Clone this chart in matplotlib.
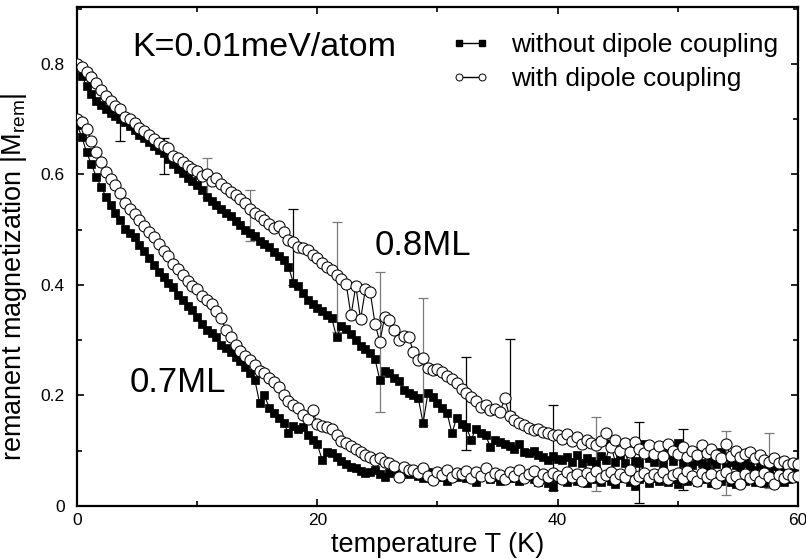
import numpy as np
import matplotlib
matplotlib.use("Agg")
import matplotlib.pyplot as plt
from matplotlib.lines import Line2D
from matplotlib.ticker import MultipleLocator, FixedLocator

plt.rcParams['font.family'] = ['Liberation Sans', 'DejaVu Sans']
plt.rcParams['mathtext.fontset'] = 'custom'
plt.rcParams['mathtext.rm'] = 'Liberation Sans'

# temperature grid (K), 0.4 K sampling
T = np.round(np.arange(151) * 0.4, 1)

# 0.8 ML, with dipole coupling (open circles)
m08_dip = [
    0.800, 0.795, 0.785, 0.776, 0.765, 0.752, 0.742, 0.733, 0.724, 0.718,
    0.704, 0.700, 0.693, 0.684, 0.678, 0.672, 0.665, 0.657, 0.651, 0.648,
    0.634, 0.630, 0.622, 0.616, 0.610, 0.606, 0.598, 0.600, 0.588, 0.594,
    0.583, 0.575, 0.568, 0.562, 0.555, 0.548, 0.537, 0.530, 0.524, 0.518,
    0.510, 0.503, 0.506, 0.495, 0.482, 0.478, 0.469, 0.466, 0.463, 0.455,
    0.448, 0.440, 0.432, 0.427, 0.418, 0.410, 0.402, 0.345, 0.398, 0.338,
    0.392, 0.387, 0.330, 0.297, 0.342, 0.337, 0.318, 0.300, 0.308, 0.306,
    0.279, 0.264, 0.268, 0.250, 0.246, 0.248, 0.242, 0.236, 0.230, 0.222,
    0.212, 0.204, 0.198, 0.190, 0.179, 0.182, 0.174, 0.176, 0.170, 0.195,
    0.162, 0.156, 0.150, 0.146, 0.142, 0.137, 0.139, 0.134, 0.132, 0.128,
    0.128, 0.122, 0.130, 0.118, 0.124, 0.112, 0.120, 0.114, 0.110, 0.118,
    0.132, 0.106, 0.120, 0.100, 0.114, 0.098, 0.116, 0.104, 0.096, 0.110,
    0.094, 0.108, 0.090, 0.112, 0.100, 0.094, 0.106, 0.088, 0.100, 0.092,
    0.110, 0.096, 0.104, 0.092, 0.086, 0.112, 0.090, 0.100, 0.088, 0.094,
    0.098, 0.086, 0.092, 0.084, 0.080, 0.086, 0.078, 0.082, 0.074, 0.078,
    0.076,
]

# 0.8 ML, without dipole coupling (filled squares)
m08_nodip = [
    0.800, 0.778, 0.760, 0.745, 0.733, 0.725, 0.718, 0.712, 0.705, 0.700,
    0.695, 0.688, 0.680, 0.672, 0.666, 0.658, 0.652, 0.645, 0.638, 0.628,
    0.618, 0.610, 0.602, 0.594, 0.588, 0.580, 0.572, 0.560, 0.552, 0.545,
    0.538, 0.530, 0.524, 0.515, 0.508, 0.500, 0.494, 0.488, 0.480, 0.474,
    0.468, 0.460, 0.452, 0.445, 0.433, 0.404, 0.398, 0.385, 0.373, 0.365,
    0.358, 0.352, 0.345, 0.340, 0.306, 0.325, 0.320, 0.312, 0.300, 0.290,
    0.285, 0.277, 0.266, 0.228, 0.245, 0.240, 0.232, 0.226, 0.210, 0.204,
    0.200, 0.195, 0.150, 0.204, 0.198, 0.186, 0.178, 0.168, 0.132, 0.160,
    0.148, 0.143, 0.120, 0.140, 0.132, 0.128, 0.107, 0.120, 0.115, 0.112,
    0.108, 0.104, 0.112, 0.098, 0.096, 0.100, 0.092, 0.088, 0.083, 0.090,
    0.085, 0.083, 0.088, 0.080, 0.092, 0.078, 0.086, 0.082, 0.076, 0.090,
    0.084, 0.112, 0.080, 0.092, 0.078, 0.096, 0.082, 0.078, 0.112, 0.086,
    0.080, 0.104, 0.076, 0.095, 0.082, 0.114, 0.078, 0.086, 0.074, 0.082,
    0.078, 0.072, 0.084, 0.076, 0.098, 0.070, 0.080, 0.074, 0.068, 0.078,
    0.072, 0.066, 0.076, 0.070, 0.064, 0.072, 0.066, 0.062, 0.068, 0.064,
    0.065,
]

# 0.7 ML, with dipole coupling (open circles)
m07_dip = [
    0.700, 0.694, 0.682, 0.660, 0.640, 0.622, 0.604, 0.592, 0.580, 0.566,
    0.548, 0.538, 0.528, 0.518, 0.506, 0.496, 0.486, 0.474, 0.462, 0.452,
    0.438, 0.428, 0.418, 0.408, 0.398, 0.392, 0.380, 0.372, 0.366, 0.352,
    0.340, 0.318, 0.305, 0.292, 0.280, 0.272, 0.264, 0.256, 0.245, 0.240,
    0.232, 0.225, 0.215, 0.200, 0.190, 0.182, 0.178, 0.165, 0.158, 0.174,
    0.148, 0.145, 0.143, 0.140, 0.128, 0.118, 0.114, 0.108, 0.104, 0.098,
    0.092, 0.089, 0.083, 0.086, 0.080, 0.078, 0.072, 0.052, 0.070, 0.066,
    0.065, 0.060, 0.068, 0.054, 0.047, 0.062, 0.056, 0.066, 0.052, 0.060,
    0.058, 0.064, 0.050, 0.062, 0.055, 0.068, 0.052, 0.060, 0.056, 0.049,
    0.062, 0.054, 0.066, 0.050, 0.058, 0.064, 0.046, 0.058, 0.052, 0.060,
    0.055, 0.048, 0.062, 0.053, 0.058, 0.046, 0.060, 0.052, 0.064, 0.050,
    0.056, 0.062, 0.048, 0.058, 0.052, 0.066, 0.047, 0.055, 0.060, 0.050,
    0.058, 0.052, 0.062, 0.048, 0.056, 0.060, 0.050, 0.064, 0.054, 0.046,
    0.060, 0.052, 0.058, 0.042, 0.056, 0.062, 0.050, 0.054, 0.040, 0.058,
    0.050, 0.056, 0.046, 0.060, 0.052, 0.040, 0.056, 0.050, 0.058, 0.052,
    0.054,
]

# 0.7 ML, without dipole coupling (filled squares)
m07_nodip = [
    0.690, 0.668, 0.640, 0.618, 0.596, 0.578, 0.560, 0.545, 0.530, 0.518,
    0.502, 0.494, 0.486, 0.472, 0.462, 0.448, 0.436, 0.424, 0.414, 0.404,
    0.396, 0.382, 0.372, 0.362, 0.355, 0.342, 0.330, 0.318, 0.313, 0.305,
    0.292, 0.286, 0.278, 0.270, 0.262, 0.252, 0.240, 0.228, 0.186, 0.200,
    0.178, 0.168, 0.160, 0.150, 0.132, 0.145, 0.140, 0.143, 0.128, 0.120,
    0.112, 0.083, 0.098, 0.096, 0.088, 0.082, 0.076, 0.071, 0.068, 0.064,
    0.060, 0.062, 0.065, 0.058, 0.052, 0.060, 0.066, 0.056, 0.062, 0.058,
    0.060, 0.054, 0.050, 0.062, 0.048, 0.058, 0.053, 0.046, 0.060, 0.052,
    0.056, 0.050, 0.058, 0.044, 0.054, 0.060, 0.048, 0.052, 0.046, 0.056,
    0.050, 0.054, 0.046, 0.052, 0.058, 0.048, 0.044, 0.052, 0.042, 0.034,
    0.048, 0.052, 0.044, 0.056, 0.046, 0.050, 0.042, 0.054, 0.048, 0.044,
    0.052, 0.046, 0.040, 0.050, 0.055, 0.044, 0.036, 0.048, 0.052, 0.042,
    0.050, 0.046, 0.054, 0.044, 0.048, 0.040, 0.052, 0.046, 0.050, 0.044,
    0.048, 0.054, 0.042, 0.050, 0.046, 0.052, 0.044, 0.040, 0.050, 0.046,
    0.052, 0.044, 0.048, 0.042, 0.054, 0.046, 0.050, 0.044, 0.048, 0.052,
    0.050,
]

# error bars (temperature, lower end, upper end)
err_T = [3.6, 7.2, 10.8, 14.4, 18.0, 21.6, 25.2, 28.8, 32.4, 36.0,
         39.6, 43.2, 46.8, 50.4, 54.0, 57.6]
err_lo = [0.66, 0.60, 0.56, 0.48, 0.40, 0.315, 0.170, 0.147, 0.101, 0.170,
          0.029, 0.027, 0.005, 0.029, 0.020, 0.033]
err_hi = [0.720, 0.666, 0.630, 0.572, 0.537, 0.514, 0.424, 0.376, 0.270, 0.302,
          0.183, 0.161, 0.152, 0.139, 0.136, 0.132]
err_colors = ['#000000', '#000000', '#7a7a7a', '#7a7a7a', '#000000', '#7a7a7a',
              '#7a7a7a', '#7a7a7a', '#000000', '#000000', '#000000', '#7a7a7a',
              '#000000', '#000000', '#7a7a7a', '#7a7a7a']

legend_labels = ['without dipole coupling', 'with dipole coupling']

fig = plt.figure(figsize=(8.06, 5.59), dpi=100)
ax = fig.add_axes([77 / 806, 1 - 506 / 559, 721 / 806, 499 / 559])

# error bars
for t, lo, hi, c in zip(err_T, err_lo, err_hi, err_colors):
    mid = 0.5 * (lo + hi)
    ax.errorbar([t], [mid], yerr=[[mid - lo], [hi - mid]], fmt='none',
                ecolor=c, elinewidth=0.9, capsize=3.6, capthick=0.9, zorder=2)

sq_kw = dict(color='black', lw=0.8, marker='s', ms=6.4, mfc='black',
             mec='black', mew=0.5, zorder=3)
ci_kw = dict(color='black', lw=0.8, marker='o', ms=8.0, mfc='white',
             mec='black', mew=0.75, zorder=4)

ax.plot(T, m08_nodip, **sq_kw)
ax.plot(T, m07_nodip, **sq_kw)
ax.plot(T, m08_dip, **ci_kw)
ax.plot(T, m07_dip, **ci_kw)

ax.set_xlim(0, 60)
ax.set_ylim(0, 0.903)

ax.xaxis.set_major_locator(FixedLocator([0, 20, 40, 60]))
ax.xaxis.set_minor_locator(MultipleLocator(10))
ax.yaxis.set_major_locator(FixedLocator([0, 0.2, 0.4, 0.6, 0.8]))
ax.yaxis.set_minor_locator(MultipleLocator(0.1))
ax.set_xticklabels(['0', '20', '40', '60'])
ax.set_yticklabels(['0', '0.2', '0.4', '0.6', '0.8'])

ax.tick_params(which='both', direction='in', top=True, right=True,
               width=1.2, labelsize=12.5)
ax.tick_params(which='major', length=5)
ax.tick_params(which='minor', length=3.5)
ax.tick_params(axis='x', which='major', pad=5)
ax.tick_params(axis='y', which='major', pad=9)
for s in ax.spines.values():
    s.set_linewidth(1.6)

ax.set_xlabel('temperature T (K)', fontsize=19.5)
ax.set_ylabel(r'remanent magnetization |M$_{\mathrm{rem}}$|', fontsize=19.5)
ax.xaxis.set_label_coords(0.5, -0.052)
ax.yaxis.set_label_coords(-0.067, 0.46)

ax.text(0.0763, 0.918, 'K=0.01meV/atom', transform=ax.transAxes,
        fontsize=24.5, ha='left', va='center')
ax.text(0.413, 0.523, '0.8ML', transform=ax.transAxes,
        fontsize=25, ha='left', va='center')
ax.text(0.0735, 0.2465, '0.7ML', transform=ax.transAxes,
        fontsize=25, ha='left', va='center')

h1 = Line2D([], [], color='black', lw=1.0, marker='s', ms=4.2,
            mfc='black', mec='black')
h2 = Line2D([], [], color='black', lw=1.0, marker='o', ms=5.0,
            mfc='white', mec='black', mew=0.7)
ax.legend([h1, h2], legend_labels, loc='upper left',
          bbox_to_anchor=(0.519, 0.948), frameon=False, fontsize=19,
          handlelength=1.45, handletextpad=0.8, labelspacing=0.38,
          borderpad=0, borderaxespad=0, numpoints=2)

fig.savefig('out.png', dpi=100)
